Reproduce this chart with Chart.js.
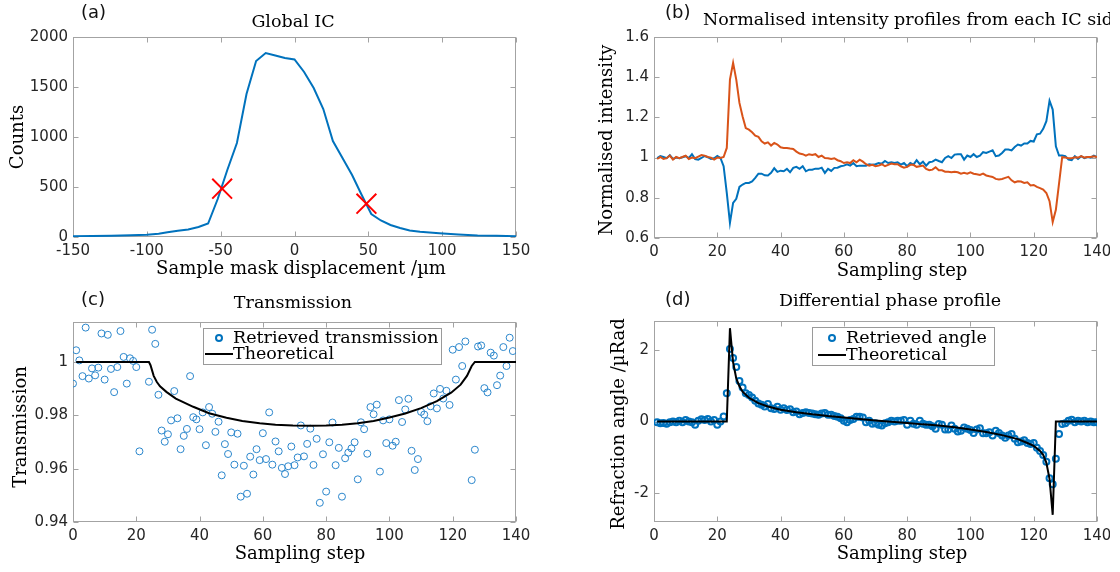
<!DOCTYPE html>
<html><head><meta charset="utf-8">
<script src="https://cdn.jsdelivr.net/npm/chart.js@4.4.1/dist/chart.umd.min.js"></script>
<style>
html,body{margin:0;padding:0;background:#fff;}
body{width:1120px;height:572px;position:relative;overflow:hidden;}
.pn{position:absolute;}
</style></head><body>
<div class="pn" style="left:0;top:0"><canvas id="ca" width="560" height="286"></canvas></div>
<div class="pn" style="left:560px;top:0"><canvas id="cb" width="550" height="286"></canvas></div>
<div class="pn" style="left:0;top:286px"><canvas id="cc" width="560" height="286"></canvas></div>
<div class="pn" style="left:560px;top:286px"><canvas id="cd" width="550" height="286"></canvas></div>
<script>
// ---------------- DATA ----------------
// (a) Global IC
const displacement = [-150,-137,-124,-111,-100,-92,-86,-79,-72,-65,-58.5,-52,-45.5,-39,-32.5,-26,-19.5,-13,-6.5,0,6.5,13,19.5,26,32.5,39,45.5,52,58.5,65,71.5,78,85,91.5,98,111,124,137,150];
const counts = [8,10,13,17,23,33,47,62,76,100,135,380,670,940,1430,1760,1840,1815,1790,1775,1650,1490,1280,960,790,620,420,230,165,120,90,65,52,45,38,25,16,12,8];
const markerX = [-49, 48.7];
const markerY = [483, 333];

// (b) Normalised intensity profiles, sampling steps 1..140
const profileBlue = [
 0.997,1.007,1.003,0.997,1.012,0.993,1.000,0.997,1.002,1.007,
 0.997,1.017,0.993,0.990,0.998,1.008,1.002,0.993,0.997,1.008,
 0.998,0.957,0.824,0.675,0.775,0.795,0.854,0.866,0.874,0.874,
 0.882,0.899,0.920,0.920,0.912,0.911,0.924,0.947,0.929,0.935,
 0.932,0.944,0.927,0.949,0.954,0.944,0.957,0.932,0.940,0.940,
 0.945,0.944,0.950,0.924,0.944,0.934,0.949,0.950,0.957,0.960,
 0.967,0.960,0.973,0.957,0.960,0.960,0.960,0.967,0.965,0.967,
 0.973,0.970,0.983,0.973,0.977,0.973,0.977,0.965,0.973,0.957,
 0.973,0.965,0.987,0.967,0.980,0.960,0.977,0.980,0.990,0.983,
 0.977,0.998,1.007,0.998,1.015,1.017,1.017,0.990,1.010,1.003,
 1.017,1.003,1.010,1.027,1.023,1.030,1.036,1.007,1.010,1.023,
 1.040,1.040,1.036,1.053,1.065,1.060,1.070,1.070,1.083,1.080,
 1.116,1.119,1.143,1.181,1.283,1.239,1.056,1.010,1.010,1.007,
 0.990,0.987,1.007,0.993,1.007,0.997,1.003,1.000,1.010,1.003];
const profileOrange = [
 0.993,1.003,0.993,0.997,1.010,0.990,1.003,0.997,1.003,1.010,
 0.993,1.000,0.997,1.005,1.013,1.010,1.003,1.000,0.990,1.000,
 0.998,1.003,1.048,1.388,1.471,1.388,1.272,1.205,1.147,1.139,
 1.126,1.109,1.103,1.081,1.070,1.076,1.060,1.073,1.065,1.051,
 1.048,1.048,1.045,1.043,1.030,1.020,1.017,1.010,1.017,1.013,
 1.017,1.003,1.010,0.998,0.997,0.993,0.997,0.987,0.982,0.973,
 0.977,0.973,0.987,0.977,0.990,0.980,0.967,0.960,0.964,0.957,
 0.960,0.967,0.957,0.964,0.970,0.967,0.967,0.957,0.950,0.954,
 0.964,0.964,0.954,0.957,0.960,0.944,0.937,0.940,0.952,0.937,
 0.937,0.930,0.930,0.927,0.930,0.927,0.920,0.924,0.920,0.927,
 0.920,0.917,0.914,0.920,0.911,0.907,0.904,0.894,0.891,0.894,
 0.899,0.904,0.887,0.877,0.882,0.881,0.874,0.877,0.861,0.864,
 0.854,0.848,0.841,0.824,0.783,0.679,0.740,0.870,1.002,1.000,
 0.997,0.997,1.002,1.000,1.007,1.000,1.003,1.003,1.007,1.003];

// (c) Transmission, retrieved at steps 0..139 (null = outside plotted range)
const transRetrieved = [
 0.9919,1.0044,1.0006,0.9947,1.0129,0.9938,0.9976,0.9950,0.9979,1.0107,
 0.9934,1.0102,0.9974,0.9887,0.9981,1.0116,1.0019,0.9919,1.0014,1.0004,
 0.9981,0.9665,null,null,0.9926,1.0121,1.0068,0.9877,0.9743,0.9701,
 0.9729,0.9781,0.9891,0.9789,0.9673,0.9723,0.9749,0.9947,0.9793,0.9785,
 0.9748,0.9811,0.9688,0.9831,0.9806,0.9738,0.9776,0.9575,0.9692,0.9655,
 0.9736,0.9615,0.9731,0.9495,0.9611,0.9506,0.9645,0.9578,0.9673,0.9632,
 0.9733,0.9636,0.9811,0.9615,0.9702,0.9665,0.9603,0.9580,0.9609,0.9683,
 0.9613,0.9642,0.9762,0.9646,0.9693,0.9750,0.9614,0.9712,0.9472,0.9654,
 0.9514,0.9699,0.9773,0.9613,0.9678,0.9495,0.9639,0.9660,0.9676,0.9699,
 0.9560,0.9774,0.9748,0.9656,0.9831,0.9804,0.9840,0.9589,0.9781,0.9696,
 0.9785,0.9686,0.9701,0.9857,0.9775,0.9822,0.9862,0.9667,0.9595,0.9636,
 0.9813,0.9803,0.9778,0.9834,0.9882,0.9826,0.9899,0.9863,0.9892,0.9839,
 1.0046,0.9934,1.0056,0.9985,1.0077,null,0.9557,0.9671,1.0058,1.0062,
 0.9902,0.9886,1.0035,1.0024,0.9913,0.9949,1.0056,0.9985,1.0091,1.0041];
const transTheoryX = [1,24,24.5,25.5,26.5,27.5,29.5,32.5,38,43,48.5,53.5,59,64,69.5,75,80,85,90,95,100,105,110,115,119.5,122.5,124.5,126,127,140];
const transTheoryY = [1,1,0.9988,0.9948,0.9925,0.9909,0.9888,0.9863,0.9832,0.9808,0.9791,0.9779,0.9770,0.9765,0.9762,0.9761,0.9762,0.9765,0.9770,0.9779,0.9792,0.9807,0.9827,0.9853,0.9885,0.9915,0.9948,0.9985,1,1];

// (d) Differential phase, retrieved at steps 1..140
const angleRetrieved = [
 -0.02,-0.05,-0.04,-0.06,-0.02,0.00,-0.02,0.02,-0.02,0.04,
 0.00,-0.02,-0.09,0.02,0.06,0.04,0.07,0.00,0.04,-0.09,
 0.00,0.14,0.79,2.02,1.77,1.52,1.13,0.95,0.79,0.74,
 0.67,0.58,0.50,0.47,0.42,0.49,0.37,0.35,0.41,0.33,
 0.37,0.32,0.34,0.26,0.28,0.20,0.24,0.26,0.24,0.22,
 0.20,0.19,0.22,0.24,0.19,0.19,0.15,0.13,0.09,0.02,
 -0.02,0.04,0.07,0.13,0.13,0.11,-0.02,0.02,-0.06,-0.05,
 -0.09,-0.11,-0.05,-0.02,0.02,0.00,0.02,0.02,0.04,-0.09,
 0.02,-0.06,-0.09,0.02,-0.06,-0.09,-0.09,-0.13,-0.20,-0.07,
 -0.09,-0.22,-0.22,-0.11,-0.20,-0.28,-0.26,-0.17,-0.20,-0.24,
 -0.32,-0.22,-0.19,-0.33,-0.33,-0.30,-0.39,-0.26,-0.32,-0.39,
 -0.45,-0.39,-0.35,-0.48,-0.58,-0.56,-0.52,-0.60,-0.63,-0.60,
 -0.73,-0.82,-0.93,-1.12,-1.58,-1.75,-1.04,-0.35,-0.07,-0.05,
 0.02,0.05,-0.02,0.02,0.00,0.02,-0.02,0.00,-0.02,-0.02];
const angleTheoryX = [1,23,24,25,26,27,28,30,33,36,40,45,50,55,60,65,70,75,80,85,90,95,100,105,110,115,118,120,122,123,124,125,126,127,140];
const angleTheoryY = [0,0,2.6,1.65,1.2,0.98,0.83,0.66,0.51,0.42,0.33,0.26,0.2,0.15,0.11,0.07,0.03,-0.01,-0.04,-0.08,-0.11,-0.16,-0.22,-0.29,-0.38,-0.49,-0.6,-0.68,-0.82,-0.93,-1.15,-1.6,-2.6,0,0];

// tick values
const ticksDisp = [-150,-100,-50,0,50,100,150];
const ticksCounts = [0,500,1000,1500,2000];
const ticksStep = [0,20,40,60,80,100,120,140];
const ticksNorm = [0.6,0.8,1,1.2,1.4,1.6];
const ticksTrans = [0.94,0.96,0.98,1];
const ticksAngle = [-2,0,2];

// ---------------- STYLE / LAYOUT ----------------
const BLUE = '#0072BD', ORANGE = '#D95319';
const AXC = '#a3a3a3', TXT = '#262626';
const TITLE = '17.5px "DejaVu Serif"';
const LABEL = '18px "DejaVu Serif"';
const LEG = '17.5px "DejaVu Serif"';
const LETTER = '18px "DejaVu Sans"';

function sc(min, max, vals, fit, isX, pad) {
  return {
    type: 'linear', min: min, max: max,
    grid: {display: false, drawTicks: false, tickLength: 0},
    border: {display: false},
    ticks: {font: {family: 'DejaVu Sans', size: 15}, color: TXT, padding: pad,
            autoSkip: false, maxRotation: 0, minRotation: 0, callback: v => String(v)},
    afterBuildTicks: ax => { ax.ticks = vals.map(v => ({value: v})); },
    afterFit: ax => {
      if (isX) ax.height = fit; else ax.width = fit;
      ax.paddingLeft = 0; ax.paddingRight = 0; ax.paddingTop = 0; ax.paddingBottom = 0;
    }
  };
}

const deco = {
  id: 'deco',
  beforeDatasetsDraw(chart, args, o) {
    const ctx = chart.ctx, ca = chart.chartArea;
    const l = Math.round(ca.left) + 0.5, r = Math.round(ca.right) - 0.5;
    const t = Math.round(ca.top) + 0.5, b = Math.round(ca.bottom) - 0.5;
    ctx.save();
    ctx.strokeStyle = AXC; ctx.lineWidth = 1;
    ctx.strokeRect(l, t, r - l, b - t);
    ctx.beginPath();
    const xs = chart.scales.x, ys = chart.scales.y, tl = 5;
    xs.ticks.forEach(tk => { const p = Math.round(xs.getPixelForValue(tk.value)) + 0.5;
      ctx.moveTo(p, b); ctx.lineTo(p, b - tl); ctx.moveTo(p, t); ctx.lineTo(p, t + tl); });
    ys.ticks.forEach(tk => { const p = Math.round(ys.getPixelForValue(tk.value)) + 0.5;
      ctx.moveTo(l, p); ctx.lineTo(l + tl, p); ctx.moveTo(r, p); ctx.lineTo(r - tl, p); });
    ctx.stroke();
    ctx.restore();
  },
  afterDraw(chart, args, o) {
    const ctx = chart.ctx;
    ctx.save();
    (o.texts || []).forEach(s => {
      ctx.save();
      ctx.font = s.font; ctx.fillStyle = s.color || '#000';
      ctx.textAlign = s.align || 'center'; ctx.textBaseline = 'middle';
      ctx.translate(s.x, s.y);
      if (s.rot) ctx.rotate(s.rot * Math.PI / 180);
      ctx.fillText(s.t, 0, 0);
      ctx.restore();
    });
    const lg = o.legend;
    if (lg) {
      ctx.fillStyle = '#fff'; ctx.strokeStyle = '#9a9a9a'; ctx.lineWidth = 1;
      ctx.fillRect(lg.box[0], lg.box[1], lg.box[2], lg.box[3]);
      ctx.strokeRect(lg.box[0] + 0.5, lg.box[1] + 0.5, lg.box[2], lg.box[3]);
      ctx.font = LEG; ctx.fillStyle = '#000'; ctx.textAlign = 'left'; ctx.textBaseline = 'middle';
      const ds = chart.data.datasets;
      ctx.beginPath(); ctx.strokeStyle = BLUE; ctx.lineWidth = 2;
      ctx.arc(lg.markX, lg.row1, 3, 0, Math.PI * 2); ctx.stroke();
      ctx.fillText(ds[1].label, lg.textX, lg.row1);
      ctx.beginPath(); ctx.strokeStyle = '#000'; ctx.lineWidth = 2;
      ctx.moveTo(lg.line[0], lg.row2); ctx.lineTo(lg.line[1], lg.row2); ctx.stroke();
      ctx.fillText(ds[0].label, lg.textX, lg.row2);
    }
    ctx.restore();
  }
};
Chart.register(deco);

function base(W, H, L, T, R, B, xs, ys, decoOpts) {
  return {
    responsive: false, animation: false, devicePixelRatio: 1,
    layout: {autoPadding: false, padding: {left: 0, top: T, right: W - R, bottom: 0}},
    scales: {x: xs, y: ys},
    plugins: {legend: {display: false}, tooltip: {enabled: false}, title: {display: false}, deco: decoOpts},
    events: []
  };
}

// ---------- (a) ----------
new Chart(document.getElementById('ca'), {
  type: 'scatter',
  data: {datasets: [
    {label: 'Markers', data: markerX.map((x, i) => ({x: x, y: markerY[i]})), showLine: false,
     pointStyle: 'crossRot', pointRadius: 14, pointBorderWidth: 2, borderColor: '#ff0000', backgroundColor: '#ff0000'},
    {label: 'Global IC', data: displacement.map((x, i) => ({x: x, y: counts[i]})), showLine: true,
     borderColor: BLUE, borderWidth: 2, pointRadius: 0, tension: 0}
  ]},
  options: base(560, 286, 73, 37, 516, 237,
    sc(-150, 150, ticksDisp, 286 - 237, true, 5),
    sc(0, 2000, ticksCounts, 73, false, 5),
    {texts: [
      {t: '(a)', x: 81, y: 13, font: LETTER, align: 'left', color: '#111'},
      {t: 'Global IC', x: 293, y: 22, font: TITLE},
      {t: 'Counts', x: 18, y: 137, font: LABEL, rot: -90},
      {t: 'Sample mask displacement /\u00b5m', x: 301, y: 269, font: LABEL}
    ]})
});

// ---------- (b) ----------
new Chart(document.getElementById('cb'), {
  type: 'scatter',
  data: {datasets: [
    {label: 'Side 2', data: profileOrange.map((v, i) => ({x: i + 1, y: v})), showLine: true,
     borderColor: ORANGE, borderWidth: 2, pointRadius: 0, tension: 0},
    {label: 'Side 1', data: profileBlue.map((v, i) => ({x: i + 1, y: v})), showLine: true,
     borderColor: BLUE, borderWidth: 2, pointRadius: 0, tension: 0}
  ]},
  options: base(550, 286, 94, 37, 537, 238,
    sc(0, 140, ticksStep, 286 - 238, true, 5),
    sc(0.6, 1.6, ticksNorm, 94, false, 5),
    {texts: [
      {t: '(b)', x: 105, y: 13, font: LETTER, align: 'left', color: '#111'},
      {t: 'Normalised intensity profiles from each IC side', x: 143, y: 20, font: TITLE, align: 'left'},
      {t: 'Normalised intensity', x: 47, y: 140, font: LABEL, rot: -90},
      {t: 'Sampling step', x: 342, y: 271, font: LABEL}
    ]})
});

// ---------- (c) ----------
new Chart(document.getElementById('cc'), {
  type: 'scatter',
  data: {datasets: [
    {label: 'Theoretical', data: transTheoryX.map((x, i) => ({x: x, y: transTheoryY[i]})), showLine: true,
     borderColor: '#000', borderWidth: 2, pointRadius: 0, tension: 0},
    {label: 'Retrieved transmission', data: transRetrieved.map((v, i) => ({x: i, y: v})), showLine: false,
     pointStyle: 'circle', pointRadius: 3.5, pointBorderWidth: 1, borderColor: '#2a86cc', backgroundColor: 'rgba(0,0,0,0)'}
  ]},
  options: base(560, 286, 73, 36, 516, 236,
    sc(0, 140, ticksStep, 286 - 236, true, 5),
    sc(0.94, 1.015, ticksTrans, 73, false, 5),
    {texts: [
      {t: '(c)', x: 81, y: 14, font: LETTER, align: 'left', color: '#111'},
      {t: 'Transmission', x: 293, y: 17, font: TITLE},
      {t: 'Transmission', x: 21, y: 141, font: LABEL, rot: -90},
      {t: 'Sampling step', x: 300, y: 268, font: LABEL}
    ],
    legend: {box: [203, 42, 238, 36], markX: 219, row1: 52, row2: 68, textX: 233, line: [205, 233]}})
});

// ---------- (d) ----------
new Chart(document.getElementById('cd'), {
  type: 'scatter',
  data: {datasets: [
    {label: 'Theoretical', data: angleTheoryX.map((x, i) => ({x: x, y: angleTheoryY[i]})), showLine: true,
     borderColor: '#000', borderWidth: 2, pointRadius: 0, tension: 0},
    {label: 'Retrieved angle', data: angleRetrieved.map((v, i) => ({x: i + 1, y: v})), showLine: false,
     pointStyle: 'circle', pointRadius: 3, pointBorderWidth: 2, borderColor: BLUE, backgroundColor: 'rgba(0,0,0,0)'}
  ]},
  options: base(550, 286, 94, 35, 537, 236,
    sc(0, 140, ticksStep, 286 - 236, true, 5),
    sc(-2.8, 2.8, ticksAngle, 94, false, 5),
    {texts: [
      {t: '(d)', x: 105, y: 14, font: LETTER, align: 'left', color: '#111'},
      {t: 'Differential phase profile', x: 330, y: 15, font: TITLE},
      {t: 'Refraction angle /\u00b5Rad', x: 59, y: 138, font: LABEL, rot: -90},
      {t: 'Sampling step', x: 342, y: 268, font: LABEL}
    ],
    legend: {box: [252, 41, 182, 38], markX: 272, row1: 52, row2: 69, textX: 286, line: [258, 286]}})
});
</script>
</body></html>
